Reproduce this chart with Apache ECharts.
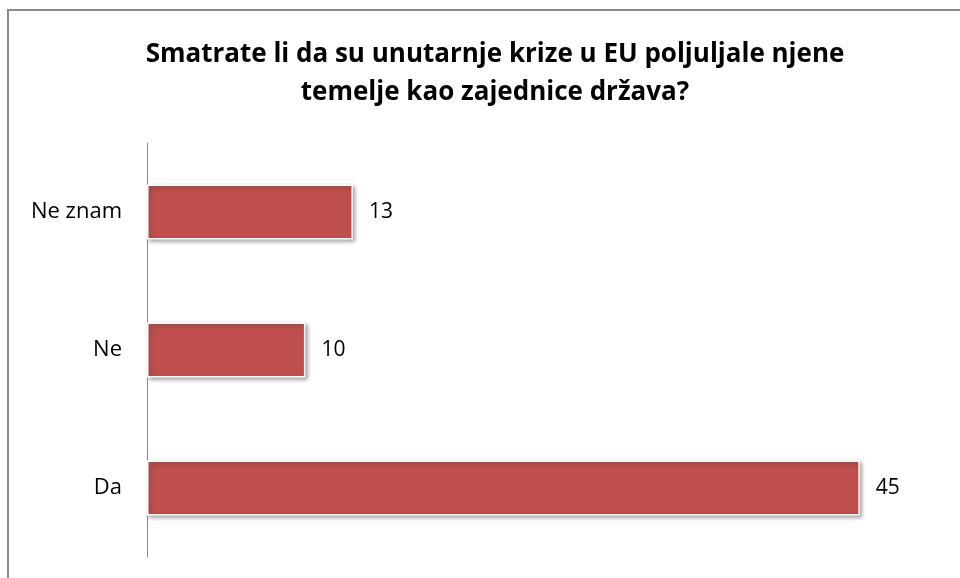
<!DOCTYPE html>
<html>
<head>
<meta charset="utf-8">
<script src="https://cdn.jsdelivr.net/npm/echarts@6/dist/echarts.min.js"></script>
<style>
  html, body { margin: 0; padding: 0; background: #fff; }
  #chart { width: 960px; height: 578px; }
</style>
</head>
<body>
<div id="chart"></div>
<script>
// odgovori i broj glasova
var categories = ['Da', 'Ne', 'Ne znam'];
var values = [45, 10, 13];
var titleText = 'Smatrate li da su unutarnje krize u EU poljuljale njene\ntemelje kao zajednice država?';

var myChart = echarts.init(document.getElementById('chart'));

myChart.setOption({
    animation: false,
    title: {
        text: titleText,
        left: 490,
        textAlign: 'center',
        top: 31,
        textStyle: {
            fontFamily: 'Open Sans',
            fontSize: 26,
            fontWeight: 'bold',
            color: '#000',
            lineHeight: 38
        }
    },
    // sivi okvir oko grafikona
    graphic: [{
        type: 'rect',
        shape: { x: 8, y: 10, width: 1000, height: 1000 },
        style: { fill: 'none', stroke: '#8c8c8c', lineWidth: 2 }
    }],
    grid: { left: 147, right: 21, top: 143, bottom: 21 },
    xAxis: {
        type: 'value',
        min: 0,
        max: 50,
        show: false
    },
    yAxis: {
        type: 'category',
        data: categories,
        axisLine: { lineStyle: { color: '#8c8c8c', width: 1 } },
        axisTick: { show: false },
        axisLabel: {
            fontFamily: 'Open Sans',
            fontSize: 22,
            color: '#000',
            margin: 25
        }
    },
    series: [{
        type: 'bar',
        data: values,
        barWidth: 55,
        itemStyle: {
            color: '#C0504D',
            borderColor: '#fff',
            borderWidth: 1.5,
            shadowColor: 'rgba(0,0,0,0.35)',
            shadowBlur: 4,
            shadowOffsetX: 2,
            shadowOffsetY: 2
        },
        label: {
            show: true,
            position: 'right',
            distance: 16,
            fontFamily: 'Open Sans',
            fontSize: 21,
            color: '#000'
        }
    }]
});
</script>
</body>
</html>
